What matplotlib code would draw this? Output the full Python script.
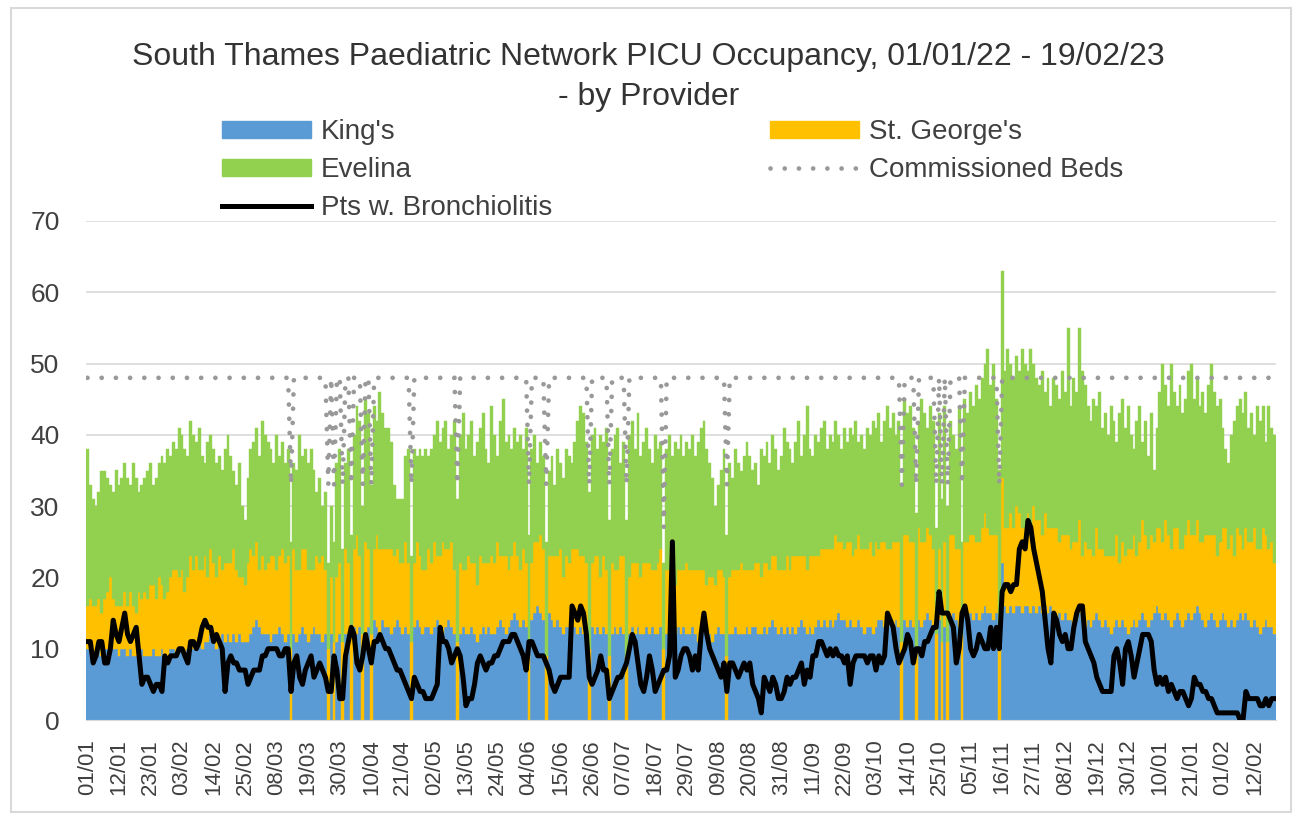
import matplotlib
matplotlib.use("Agg")
import matplotlib.pyplot as plt
import matplotlib.patches as mpatches
import matplotlib.lines as mlines
import numpy as np
import datetime as dt

# daily PICU occupancy, 01/01/22 - 19/02/23 (415 days)
kings = [
    10,10,9,10,10,9,10, 10,11,10,10,9,10,10, 9,10,9,9,10,10,9, 9,9,10,9,9,10,9,
    9,10,10,9,10,10,9, 10,11,10,10,11,10,11, 11,12,11,10,11,12,11, 12,11,12,11,12,11,11,
    11,12,13,14,13,12,12, 12,11,12,12,13,12,11, 12,0,12,11,12,13,12, 11,12,13,12,12,11,12,
    0,12,0,11,12,0,12, 12,0,13,12,13,0,12, 13,0,14,13,12,14,13,
    13,12,13,14,13,12,13, 12,0,13,14,13,12,13, 13,12,13,14,13,12,13, 14,13,12,0,12,13,12,
    12,13,12,11,12,13,12, 13,12,12,13,14,13,12, 13,14,15,14,13,14,13, 0,14,15,16,15,14,0,
    15,14,13,14,13,12,13, 13,14,13,12,13,12,13, 0,13,12,13,12,13,12, 0,12,13,12,13,12,0,
    12,13,12,13,12,12,13, 12,13,12,12,13,0,12, 13,12,12,13,12,13,12,
    12,13,12,11,12,13,12, 12,11,12,13,12,12,0, 12,12,13,12,12,12,13, 12,13,13,12,12,13,12,
    13,14,13,12,13,12,13, 12,13,12,13,14,13,12, 13,12,13,14,13,14,13, 14,13,14,15,14,14,13,
    14,13,13,14,13,12,13, 13,12,13,14,14,13,13, 14,13,14,13,0,14,13, 14,13,0,14,13,14,15,
    14,13,0,14,0,13,0, 14,15,14,13,0,15,14, 15,14,15,14,15,16,15,
    15,14,15,0,22,16,15, 16,15,16,16,15,16,16, 15,16,15,16,15,16,15, 16,15,14,15,14,15,14,
    14,13,14,15,14,13,14, 13,14,15,14,13,14,13, 12,13,14,13,14,13,12, 13,14,13,14,15,14,13,
    14,15,16,15,14,15,14, 13,14,15,14,13,14,15, 14,15,16,15,14,13,14, 15,14,13,14,15,14,13,
    14,13,14,15,14,15,14, 13,14,13,12,13,14,13, 13,12,
]
st_georges = [
    6,7,7,6,7,6,7, 8,9,7,6,7,6,8, 7,8,7,6,8,7,9, 8,10,9,8,11,9,8,
    9,10,11,12,10,11,9, 10,12,11,13,10,11,12, 9,12,11,10,12,9,11, 10,11,12,10,8,9,8,
    11,12,10,11,8,11,9, 10,12,11,9,10,12,11, 11,10,12,10,9,11,12, 10,9,8,11,10,12,9,
    10,8,11,9,10,11,12, 10,12,11,14,10,12,13, 11,12,10,13,12,10,11,
    11,12,10,10,9,10,12, 10,11,9,11,10,9,8, 11,10,12,9,10,13,11, 10,12,9,11,10,8,9,
    11,9,10,8,11,9,10, 9,11,10,12,9,10,11, 8,9,10,9,8,10,9, 9,8,10,9,11,10,9,
    8,9,10,9,11,8,10, 9,10,11,12,10,11,9, 10,9,11,10,8,10,9, 9,10,8,9,10,11,9,
    8,9,10,9,8,10,9, 10,8,9,10,11,10,9, 8,9,7,8,9,8,10,
    9,8,9,10,9,8,7, 8,9,7,8,9,8,9, 8,9,8,9,10,9,8, 9,8,9,10,8,9,10,
    8,9,10,9,8,9,10, 9,10,11,10,9,10,9, 10,11,10,9,11,10,11, 10,11,12,10,11,10,12,
    11,10,11,12,11,12,11, 12,11,12,10,11,12,11, 10,12,11,12,11,12,13, 11,12,10,13,12,11,12,
    12,11,12,10,11,12,11, 12,11,10,11,12,10,11, 11,12,10,11,12,13,12,
    11,12,11,12,12,11,12, 13,12,14,13,12,11,13, 12,14,13,12,11,13,12, 11,12,13,10,12,11,12,
    10,12,11,13,9,12,10, 11,9,12,10,11,9,10, 11,10,12,9,11,10,12, 11,12,10,11,13,12,11,
    12,10,11,12,11,13,12, 11,13,12,10,11,12,13, 12,11,12,10,11,13,12, 11,12,10,11,12,13,11,
    12,10,13,11,10,12,11, 12,13,11,12,14,12,11, 12,10,
]
evelina = [
    22,16,15,14,15,20,18, 16,13,15,19,17,18,18, 18,15,20,19,14,16,16, 18,17,14,17,16,18,19,
    20,17,18,17,21,19,20, 17,19,19,16,20,16,13, 19,16,16,16,14,14,16, 18,15,11,12,16,10,9,
    12,14,16,16,16,19,19, 17,15,13,19,14,15,14, 15,15,12,14,19,13,14, 15,17,14,9,12,7,11,
    12,10,14,16,16,13,12, 16,14,16,18,19,18,20, 19,21,20,16,22,19,17,
    17,15,10,7,9,9,12, 16,12,16,12,15,16,17, 13,16,15,19,16,16,18, 14,15,21,20,18,22,17,
    17,20,15,20,18,21,16, 14,21,18,12,19,22,16, 19,15,16,16,19,14,19, 17,16,15,11,13,13,16,
    12,14,10,15,12,14,15, 15,12,15,18,21,20,17, 22,18,18,15,20,16,20, 19,16,19,20,13,16,19,
    20,20,16,21,17,17,19, 16,15,19,16,15,12,17, 19,16,20,17,19,16,17,
    17,19,16,18,20,21,19, 16,14,11,12,14,18,17, 16,13,17,15,13,16,18, 16,14,14,11,18,15,17,
    15,17,15,14,16,20,16, 17,13,16,19,14,17,23, 15,14,17,16,17,18,14, 16,15,16,15,13,17,14,
    16,17,18,13,16,14,17, 15,19,16,19,14,17,20, 17,18,15,17,22,19,17, 19,16,19,15,20,18,14,
    18,18,15,19,20,19,19, 16,14,14,20,13,20,18, 20,18,22,20,21,21,25,
    21,24,19,23,29,22,25, 21,21,21,20,25,23,20, 25,20,20,19,23,17,21, 17,21,20,20,23,20,29,
    20,23,21,27,26,22,20, 18,22,17,22,17,20,17, 21,19,13,21,20,18,20, 16,12,19,19,11,16,13,
    17,10,14,19,25,19,18, 26,19,17,23,19,19,21, 24,19,20,19,21,17,21, 24,20,21,20,14,11,12,
    14,19,17,19,19,19,16, 18,13,20,18,17,13,20, 16,18,
]
bronchiolitis = [
    11,11,8,9,11,11,8, 8,10,14,12,11,13,15, 12,11,12,13,9,5,6, 6,5,4,5,5,4,9,
    8,9,9,9,10,10,9, 8,11,11,10,11,13,14, 13,13,11,12,11,10,4, 8,9,8,8,7,7,7,
    5,6,7,7,7,9,9, 10,10,10,10,9,9,10, 10,4,8,9,6,5,7, 8,9,6,7,8,7,6,
    4,4,9,7,3,3,9, 11,13,12,8,7,9,12, 10,8,11,11,12,11,10,
    10,9,8,7,7,6,5, 4,3,6,5,4,4,3, 3,3,4,5,13,11,11, 10,8,9,10,9,6,2,
    3,3,5,8,9,8,7, 8,8,9,9,10,11,11, 11,12,12,11,10,9,7, 11,11,10,9,9,9,8,
    7,5,4,5,6,6,6, 6,16,15,14,16,15,12, 6,5,6,7,9,7,7, 3,4,5,6,6,7,8,
    10,12,11,8,5,4,6, 9,7,4,5,6,7,7, 9,25,6,7,9,10,10,
    9,7,9,7,12,15,12, 10,9,8,7,6,8,4, 8,8,7,6,7,8,7, 8,5,4,3,1,6,5,
    4,6,5,3,3,4,6, 5,6,6,7,8,5,7, 6,9,9,11,11,10,9, 10,9,10,9,9,8,9,
    5,8,9,9,9,9,8, 9,9,7,9,8,9,15, 14,13,10,8,9,10,12, 11,8,10,10,9,11,11,
    12,13,13,18,15,15,15, 14,13,8,10,15,16,14, 10,9,10,12,11,10,10,
    13,10,13,10,18,19,19, 18,19,19,24,25,24,28, 27,24,22,20,18,14,10, 8,15,14,12,11,12,10,
    10,13,15,16,16,11,10, 9,8,6,5,4,4,4, 4,9,10,8,5,10,11, 9,6,8,10,12,12,12,
    11,7,5,6,5,6,4, 5,4,3,4,4,3,2, 3,6,5,5,4,4,3, 3,2,1,1,1,1,1,
    1,1,1,0,0,4,3, 3,3,3,2,2,3,2, 3,3,
]
# commissioned beds: 48, lower on days one provider's beds were not reported
beds_full = 48
bed_dip_days = [71, 84, 86, 89, 92, 96, 99, 113, 129, 154, 160, 175, 182, 188, 201,
                223, 284, 289, 296, 298, 300, 305, 318]
bed_dip_values = [33, 33, 33, 33, 33, 33, 33, 33, 33, 33, 33, 33, 33, 33, 27,
                  33, 33, 33, 33, 33, 33, 33, 33]

start = dt.date(2022, 1, 1)
n = len(kings)
dates = [start + dt.timedelta(days=i) for i in range(n)]
beds = np.full(n, beds_full, dtype=float)
beds[bed_dip_days] = bed_dip_values

kings = np.array(kings)
st_georges = np.array(st_georges)
evelina = np.array(evelina)
x = np.arange(n)

plt.rcParams['font.family'] = ['Liberation Sans', 'DejaVu Sans']
txt = '#404040'
dot_style = (0, (0.01, 3.0))

fig = plt.figure(figsize=(12.97, 8.14), dpi=100)
W, H = 1297, 814
ax = fig.add_axes([86 / W, 1 - 720 / H, (1276 - 86) / W, (720 - 221) / H])

c_k, c_g, c_e = '#5b9bd5', '#ffc000', '#92d050'
ax.bar(x, kings, width=1.0, color=c_k, edgecolor=c_k, linewidth=0.3, zorder=2)
ax.bar(x, st_georges, bottom=kings, width=1.0, color=c_g, edgecolor=c_g, linewidth=0.3, zorder=2)
ax.bar(x, evelina, bottom=kings + st_georges, width=1.0, color=c_e, edgecolor=c_e,
       linewidth=0.3, zorder=2)
ax.plot(x, beds, color='#999999', lw=3.4, linestyle=dot_style,
        dash_capstyle='round', zorder=3)
ax.plot(x, bronchiolitis, color='black', lw=3.6, solid_joinstyle='round', zorder=4)

ax.set_xlim(-0.5, n - 0.5)
ax.set_ylim(0, 70)
ax.set_yticks(range(0, 71, 10))
ax.yaxis.grid(True, color='#d9d9d9', lw=1.2, zorder=0)
ax.set_axisbelow(True)
for s in ['top', 'right', 'left']:
    ax.spines[s].set_visible(False)
ax.spines['bottom'].set_color('#d9d9d9')

ticks = list(range(0, n, 11))
ax.set_xticks(ticks)
ax.set_xticklabels([dates[i].strftime('%d/%m') for i in ticks], rotation=90,
                   fontsize=16, color=txt)
ax.tick_params(axis='x', length=0, pad=14)
ax.tick_params(axis='y', length=0, pad=19, labelsize=19, labelcolor=txt)

fig.text(0.5, 1 - 57 / H, 'South Thames Paediatric Network PICU Occupancy, 01/01/22 - 19/02/23',
         ha='center', va='center', fontsize=23, color='#333333')
fig.text(0.5, 1 - 97 / H, '- by Provider', ha='center', va='center', fontsize=23,
         color='#333333')

h_k = mpatches.Patch(color=c_k, label="King's")
h_g = mpatches.Patch(color=c_g, label="St. George's")
h_e = mpatches.Patch(color=c_e, label='Evelina')
h_b = mlines.Line2D([], [], color='#999999', lw=3.4, linestyle=dot_style,
                    dash_capstyle='round', label='Commissioned Beds')
h_br = mlines.Line2D([], [], color='black', lw=3.6, label='Pts w. Bronchiolitis')
fig.legend(handles=[h_k, h_e, h_br, h_g, h_b], ncol=2, frameon=False,
           loc='upper left', bbox_to_anchor=(197 / W, 1 - 94 / H),
           fontsize=20, handlelength=3.2, handleheight=0.55, handletextpad=0.35,
           labelspacing=0.44, columnspacing=7.85, labelcolor=txt)

fig.patches.append(mpatches.Rectangle((11 / W, 1 - 812 / H), (1291 - 11) / W, (812 - 8) / H,
                                      transform=fig.transFigure, fill=False,
                                      edgecolor='#d9d9d9', lw=1.5))

fig.savefig('out.png', dpi=100)
